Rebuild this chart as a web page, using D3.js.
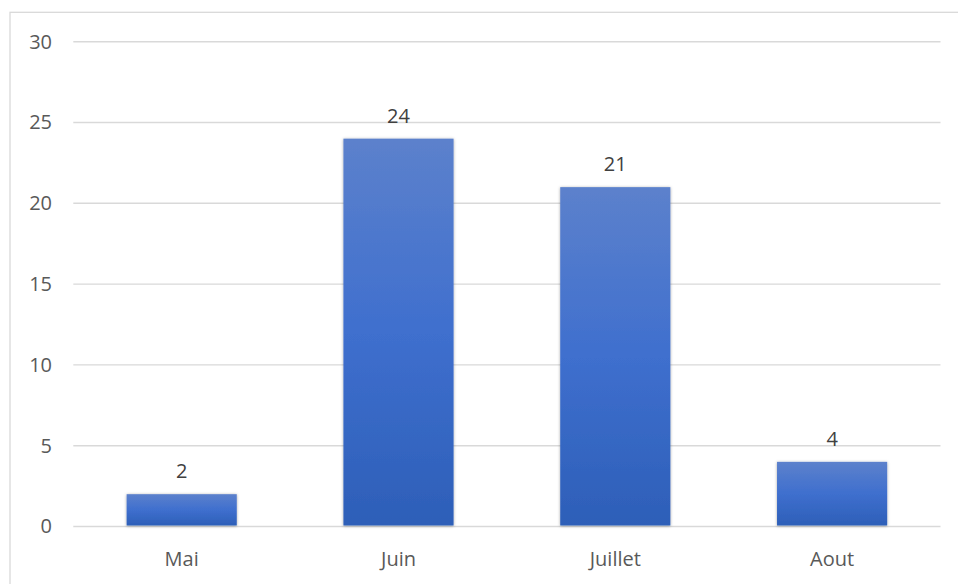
<!DOCTYPE html>
<html><head><meta charset="utf-8">
<script src="https://cdn.jsdelivr.net/npm/d3@7"></script>
<style>
html,body{margin:0;padding:0;background:#fff;overflow:hidden;}
svg{display:block;}
</style></head>
<body>
<svg id="chart" width="958" height="584"></svg>
<script>
const categories = ["Mai", "Juin", "Juillet", "Aout"];
const values = [2, 24, 21, 4];
const yTicks = [0, 5, 10, 15, 20, 25, 30];

const svg = d3.select("#chart");
const plotL = 73.3, plotR = 940.5, plotT = 41.7, plotB = 526.5;

// chart border (extends past the viewport on right/bottom)
svg.append("rect").attr("x", 10).attr("y", 12.3).attr("width", 980).attr("height", 620)
  .attr("fill", "none").attr("stroke", "#d9d9d9").attr("stroke-width", 1.3);

const defs = svg.append("defs");
const grad = defs.append("linearGradient").attr("id", "barGrad")
  .attr("x1", 0).attr("y1", 0).attr("x2", 0).attr("y2", 1);
grad.append("stop").attr("offset", "0%").attr("stop-color", "#5c81cc");
grad.append("stop").attr("offset", "50%").attr("stop-color", "#3f6fce");
grad.append("stop").attr("offset", "100%").attr("stop-color", "#2d5fb8");
const filt = defs.append("filter").attr("id", "shadow")
  .attr("x", "-10%").attr("y", "-10%").attr("width", "120%").attr("height", "120%");
filt.append("feDropShadow").attr("dx", 0).attr("dy", 0.5).attr("stdDeviation", 1.6)
  .attr("flood-color", "#000").attr("flood-opacity", 0.35);

const x = d3.scaleBand().domain(categories).range([plotL, plotR])
  .paddingInner(0.492).paddingOuter(0.246);
const y = d3.scaleLinear().domain([0, 30]).range([plotB, plotT]);

// gridlines
svg.append("g").selectAll("line").data(yTicks).join("line")
  .attr("x1", plotL).attr("x2", plotR)
  .attr("y1", d => y(d)).attr("y2", d => y(d))
  .attr("stroke", "#d9d9d9").attr("stroke-width", 1.4);

// y axis labels
const yAxis = d3.axisLeft(y).tickValues(yTicks).tickSize(0).tickPadding(0);
const yg = svg.append("g").attr("transform", `translate(52,0)`).call(yAxis);
yg.select(".domain").remove();
yg.selectAll("text").attr("font-family", "'Open Sans', sans-serif")
  .attr("font-size", 20).attr("fill", "#595959");

// bars
svg.append("g").selectAll("rect").data(values).join("rect")
  .attr("x", (d, i) => x(categories[i]))
  .attr("width", x.bandwidth())
  .attr("y", d => y(d))
  .attr("height", d => y(0) - y(d) - 1)
  .attr("fill", "url(#barGrad)")
  .attr("filter", "url(#shadow)");

// value labels
svg.append("g").selectAll("text").data(values).join("text")
  .attr("x", (d, i) => x(categories[i]) + x.bandwidth() / 2)
  .attr("y", d => y(d) - 16)
  .attr("text-anchor", "middle")
  .attr("font-family", "'Open Sans', sans-serif")
  .attr("font-size", 20).attr("fill", "#404040")
  .text(d => d);

// x axis labels
const xAxis = d3.axisBottom(x).tickSize(0).tickPadding(0);
const xg = svg.append("g").attr("transform", `translate(0,${plotB + 25})`).call(xAxis);
xg.select(".domain").remove();
xg.selectAll("text").attr("font-family", "'Open Sans', sans-serif")
  .attr("font-size", 20).attr("fill", "#595959").attr("dy", "0.71em");
</script>
</body></html>
